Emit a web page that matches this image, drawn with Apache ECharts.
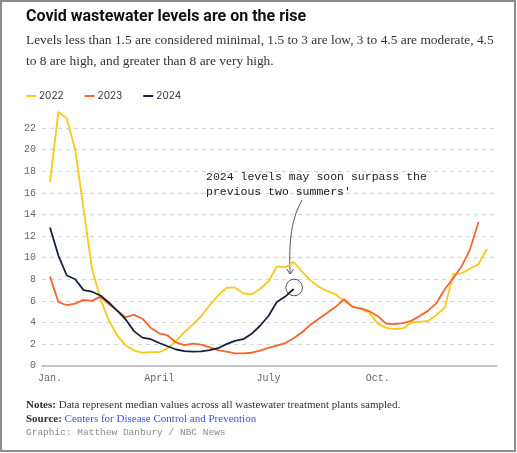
<!DOCTYPE html>
<html><head><meta charset="utf-8">
<script src="https://cdn.jsdelivr.net/npm/echarts@6/dist/echarts.min.js"></script>
<style>html,body{margin:0;padding:0;background:#fff}#c{width:517px;height:453px}</style>
</head><body><div id="c"></div>
<script>
// Weekly median wastewater viral activity levels (week 0 = early January)
const seriesNames = ['2022', '2023', '2024'];
const values2022 = [17.0, 23.5, 22.9, 20.0, 14.5, 9.0, 6.2, 4.2, 2.8, 1.9, 1.4, 1.2, 1.25, 1.25, 1.6, 2.3, 3.1, 3.8, 4.6, 5.6, 6.5, 7.2, 7.25, 6.7, 6.6, 7.1, 7.8, 9.2, 9.1, 9.6, 8.7, 7.9, 7.3, 6.9, 6.6, 6.0, 5.5, 5.25, 4.9, 3.9, 3.5, 3.4, 3.45, 4.0, 4.05, 4.15, 4.7, 5.4, 8.5, 8.55, 9.0, 9.4, 10.8];
const values2023 = [8.25, 5.9, 5.6, 5.75, 6.1, 6.0, 6.4, 5.7, 5.1, 4.5, 4.7, 4.35, 3.5, 3.0, 2.8, 2.15, 1.9, 2.05, 1.95, 1.7, 1.45, 1.3, 1.15, 1.15, 1.2, 1.4, 1.65, 1.85, 2.1, 2.55, 3.1, 3.8, 4.35, 4.9, 5.45, 6.15, 5.45, 5.3, 5.05, 4.6, 3.9, 3.85, 3.95, 4.15, 4.6, 5.1, 5.8, 7.1, 8.1, 9.2, 10.8, 13.3];
const values2024 = [12.8, 10.2, 8.35, 8.0, 7.0, 6.85, 6.5, 5.85, 5.1, 4.3, 3.2, 2.6, 2.45, 2.1, 1.8, 1.5, 1.35, 1.3, 1.33, 1.45, 1.62, 2.0, 2.3, 2.45, 2.95, 3.7, 4.6, 5.9, 6.4, 7.1];
const monthTickWeeks = [0, 13, 26, 39];
const monthTickLabels = ['Jan.', 'April', 'July', 'Oct.'];
const yTicks = [0, 2, 4, 6, 8, 10, 12, 14, 16, 18, 20, 22];
const colors = ['#f7c816', '#f4662a', '#15223d'];

const toPairs = arr => arr.map((v, i) => [i, v]);
const MONO = '"Liberation Mono", "DejaVu Sans Mono", monospace';
const SERIF = '"Liberation Serif", "DejaVu Serif", serif';

const chart = echarts.init(document.getElementById('c'), null, {renderer: 'canvas'});
const option = {
  animation: false,
  backgroundColor: '#fff',
  color: colors,
  title: [
    {text: 'Covid wastewater levels are on the rise', left: 26, top: 9, padding: 0,
     textStyle: {fontFamily: 'Roboto', fontWeight: 'bold', fontSize: 16, color: '#111'}},
    {text: 'Levels less than 1.5 are considered minimal, 1.5 to 3 are low, 3 to 4.5 are moderate, 4.5\nto 8 are high, and greater than 8 are very high.',
     left: 26, top: 30, padding: 0,
     textStyle: {fontFamily: SERIF, fontWeight: 'normal', fontSize: 13.4, lineHeight: 21, color: '#333'}},
    {text: '{b|Notes:} Data represent median values across all wastewater treatment plants sampled.\n{b|Source:} {l|Centers for Disease Control and Prevention}',
     left: 26, top: 398, padding: 0,
     textStyle: {fontFamily: SERIF, fontWeight: 'normal', fontSize: 11, lineHeight: 14, color: '#333',
       rich: {b: {fontFamily: SERIF, fontWeight: 'bold', fontSize: 11, color: '#333'},
              l: {fontFamily: SERIF, fontSize: 11, color: '#3558e0'}}}},
    {text: 'Graphic: Matthew Danbury / NBC News', left: 26, top: 427, padding: 0,
     textStyle: {fontFamily: MONO, fontWeight: 'normal', fontSize: 9.5, color: '#8a8a8a'}}
  ],
  legend: {
    left: 26, top: 91, padding: 0, itemWidth: 10, itemHeight: 2, itemGap: 21, icon: 'rect',
    textStyle: {fontFamily: 'Inter', fontSize: 10, color: '#333', padding: [0, 0, 0, -2]},
    data: seriesNames
  },
  grid: {left: 42, right: 20, top: 106.5, bottom: 87.3, containLabel: false},
  xAxis: {
    type: 'value', min: -0.95, max: 53.2,
    axisLine: {show: true, lineStyle: {color: '#b5b5b5', width: 1.5}},
    axisTick: {show: false},
    splitLine: {show: false},
    axisLabel: {
      customValues: monthTickWeeks,
      formatter: v => monthTickLabels[monthTickWeeks.indexOf(v)] || '',
      fontFamily: MONO, fontSize: 10, color: '#666', margin: 8
    }
  },
  yAxis: {
    type: 'value', min: 0, max: 24, interval: 2,
    axisLine: {show: false}, axisTick: {show: false},
    splitLine: {show: true, showMaxLine: false, lineStyle: {color: '#d4d4d4', type: [4, 4], width: 1.2}},
    axisLabel: {showMaxLabel: false, fontFamily: MONO, fontSize: 10, color: '#666', margin: 6,
      formatter: v => yTicks.includes(v) ? String(v) : ''}
  },
  series: [
    {name: '2022', type: 'line', data: toPairs(values2022), showSymbol: false, lineStyle: {width: 1.8}, z: 2},
    {name: '2023', type: 'line', data: toPairs(values2023), showSymbol: false, lineStyle: {width: 1.8}, z: 3},
    {name: '2024', type: 'line', data: toPairs(values2024), showSymbol: false, lineStyle: {width: 1.8}, z: 4}
  ]
};
chart.setOption(option);

const lastIdx = values2024.length - 1;
const pt = chart.convertToPixel({gridIndex: 0}, [lastIdx, values2024[lastIdx]]);
const cx = pt[0] + 0.5, cy = pt[1] - 1.5;
const ax = cx - 4, ay = cy - 13.5;
chart.setOption({
  graphic: [
    {type: 'rect', shape: {x: 1, y: 1, width: 514, height: 450}, style: {fill: 'none', stroke: '#8c8c8c', lineWidth: 2}, silent: true},
    {type: 'circle', shape: {cx: cx, cy: cy, r: 8.3}, style: {fill: 'none', stroke: '#555', lineWidth: 1}},
    {type: 'bezierCurve', shape: {x1: ax + 12, y1: ay - 74, x2: ax, y2: ay, cpx1: ax - 1, cpy1: ay - 52, cpx2: ax - 1, cpy2: ay - 24},
     style: {fill: 'none', stroke: '#555', lineWidth: 1}},
    {type: 'polyline', shape: {points: [[ax - 3.5, ay - 5], [ax, ay], [ax + 3.5, ay - 5]]}, style: {fill: 'none', stroke: '#555', lineWidth: 1}},
    {type: 'text', left: 206, top: 169,
     style: {text: "2024 levels may soon surpass the\nprevious two summers'", fontFamily: MONO, fontSize: 11.5, lineHeight: 15, fill: '#222'}}
  ]
});
</script>
</body></html>
